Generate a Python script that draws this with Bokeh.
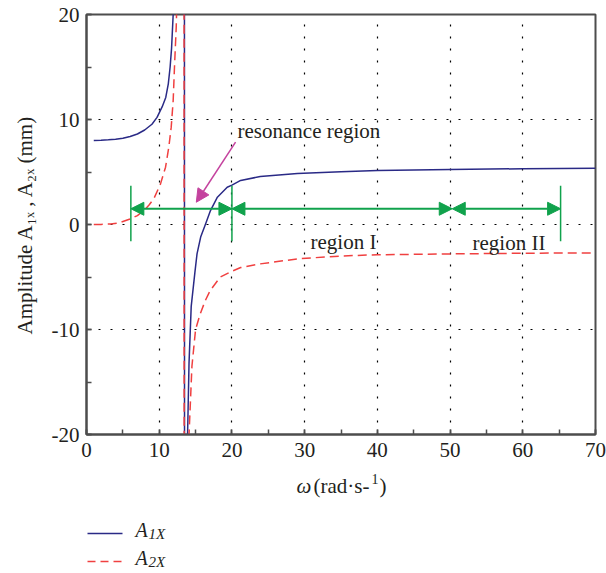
from bokeh.plotting import figure
from bokeh.models import Range1d, SingleIntervalTicker, FixedTicker, Arrow, NormalHead
from bokeh.core.properties import value
from bokeh.layouts import column
from bokeh.embed import file_html
from bokeh.resources import INLINE

# ---------------- data ----------------
omega_a1 = [1.0, 2.0, 3.0, 4.0, 5.0, 6.0, 7.0, 8.0, 9.0, 9.7, 10.4, 10.9, 11.25, 11.5, 11.7, 11.92,
            12.2, 12.6, 13.0, 13.4,
            13.55, 13.75, 13.9, 14.1, 14.4, 14.9, 15.2, 15.7, 16.4, 17.05, 18.0, 19.35, 20.0, 21.2,
            23.9, 29.0, 35.0, 40.0, 50.0, 60.0, 70.0]
a1x = [8.0, 8.02, 8.06, 8.12, 8.22, 8.38, 8.62, 9.0, 9.55, 10.2, 11.2, 12.1, 13.4, 15.0, 16.8, 20.0,
       24.0, 32.0, 55.0, 300.0,
       -300.0, -35.0, -20.0, -13.2, -7.8, -4.6, -2.8, -1.2, 0.1, 1.33, 2.6, 3.55, 3.75, 4.2,
       4.57, 4.85, 5.02, 5.14, 5.24, 5.31, 5.36]

omega_a2 = [1.0, 2.0, 3.3, 4.5, 6.05, 7.0, 7.9, 8.6, 9.26, 10.18, 10.87, 11.32, 11.65, 11.92, 12.1,
            12.34, 12.6, 13.0, 13.35,
            13.5, 13.85, 14.1, 14.5, 15.0, 15.6, 16.3, 17.0, 18.4, 20.0, 21.2, 23.9, 26.5, 29.4,
            35.0, 40.0, 50.0, 60.0, 70.0]
a2x = [0.0, 0.01, 0.05, 0.15, 0.54, 0.85, 1.33, 1.85, 2.45, 3.87, 5.46, 7.36, 9.27, 11.8, 15.0,
       18.8, 26.0, 48.0, 300.0,
       -300.0, -35.0, -20.0, -13.5, -10.0, -8.6, -7.3, -6.3, -5.0, -4.45, -4.1, -3.75, -3.5, -3.25,
       -3.0, -2.88, -2.8, -2.74, -2.7]

x_tick_values = [0, 10, 20, 30, 40, 50, 60, 70]
y_tick_values = [-20, -10, 0, 10, 20]
y_tick_labels = ["-20", "-10", "0", "10", "20"]

# region markers (omega values) and band level
region_bounds = [6.1, 20.0, 50.3, 65.2]
bar_omegas = [6.1, 20.0, 65.2]
band_level = 1.5
bar_low, bar_high = -1.6, 3.7
res_arrow_from = (20.5, 7.84)
res_arrow_to = (15.1, 2.12)

# ---------------- styles ----------------
SERIF = "Liberation Serif"
BLUE = "#2a2a86"
RED = "#f04040"
GREEN = "#10a24c"
MAGENTA = "#c4429e"
AXIS = "#4d4d4d"
TXT = "#231f20"
BASE_SHIFT = 7   # renderer places alphabetic baselines this many px lower

W = 606
H_MAIN = 466
H_BOT = 573 - H_MAIN
FRAME_TOP, FRAME_BOTTOM, FRAME_LEFT, FRAME_RIGHT = 14, 434, 86, 595

p = figure(width=W, height=H_MAIN, x_range=Range1d(0, 70), y_range=Range1d(-20, 20),
           output_backend="svg", toolbar_location=None,
           min_border_left=FRAME_LEFT, min_border_right=W - FRAME_RIGHT,
           min_border_top=FRAME_TOP, min_border_bottom=H_MAIN - FRAME_BOTTOM)
p.background_fill_color = "white"
p.border_fill_color = "white"
p.outline_line_color = AXIS
p.outline_line_width = 2

for ax in (p.xaxis[0], p.yaxis[0]):
    ax.ticker = SingleIntervalTicker(interval=10, num_minor_ticks=2)
    ax.major_tick_in = 5
    ax.major_tick_out = 0
    ax.minor_tick_in = 5
    ax.minor_tick_out = 0
    ax.axis_line_color = AXIS
    ax.axis_line_width = 2
    ax.major_tick_line_color = AXIS
    ax.minor_tick_line_color = AXIS
    ax.major_tick_line_width = 1.5
    ax.minor_tick_line_width = 1.5
    ax.major_label_text_font = SERIF
    ax.major_label_text_font_size = "21px"
    ax.major_label_text_color = TXT
p.xaxis.major_label_standoff = 8
p.yaxis.major_label_standoff = 7
p.yaxis.major_label_overrides = {v: s for v, s in zip(y_tick_values, y_tick_labels)}
p.yaxis.axis_label = "Amplitude A\u2081\u2093 , A\u2082\u2093 (mm)"
p.yaxis.axis_label_text_font = SERIF
p.yaxis.axis_label_text_font_size = "21px"
p.yaxis.axis_label_text_font_style = "normal"
p.yaxis.axis_label_text_color = TXT
p.yaxis.axis_label_standoff = 12

p.xgrid.ticker = FixedTicker(ticks=x_tick_values[1:-1])
p.ygrid.ticker = FixedTicker(ticks=y_tick_values[1:-1])
for g in (p.xgrid[0], p.ygrid[0]):
    g.grid_line_color = "black"
    g.grid_line_width = 1.2
    g.grid_line_dash = "2 10"

# curves
p.line(omega_a1, a1x, line_color=BLUE, line_width=1.5)
p.line(omega_a2, a2x, line_color=RED, line_width=1.5, line_dash="9 5")

# region band
for a, b in zip(region_bounds[:-1], region_bounds[1:]):
    p.add_layout(Arrow(start=NormalHead(size=13, fill_color=GREEN, line_color=GREEN),
                       end=NormalHead(size=13, fill_color=GREEN, line_color=GREEN),
                       x_start=a, y_start=band_level, x_end=b, y_end=band_level,
                       line_color=GREEN, line_width=2))
p.segment(x0=bar_omegas, y0=[bar_low] * 3, x1=bar_omegas, y1=[bar_high] * 3,
          line_color=GREEN, line_width=1.5)

# resonance arrow
p.add_layout(Arrow(end=NormalHead(size=13, fill_color=MAGENTA, line_color=MAGENTA),
                   x_start=res_arrow_from[0], y_start=res_arrow_from[1],
                   x_end=res_arrow_to[0], y_end=res_arrow_to[1],
                   line_color=MAGENTA, line_width=1.5))


def add_text(fig, x, y, text, size=21, style="normal"):
    fig.text(x=[x], y=[y], text=[text], text_font=value(SERIF), text_font_size=f"{size}px",
             text_font_style=style, text_color=TXT,
             text_align="left", text_baseline="alphabetic")


# pixel position (from the page's top-left) -> data coordinates of the main plot
def dx(sx):
    return (sx - FRAME_LEFT) * 70.0 / (FRAME_RIGHT - FRAME_LEFT)

def dy(sy):
    return (FRAME_BOTTOM - (sy - BASE_SHIFT)) * 40.0 / (FRAME_BOTTOM - FRAME_TOP) - 20.0

add_text(p, dx(237), dy(137), "resonance region")
add_text(p, dx(310), dy(248), "region I")
add_text(p, dx(472), dy(249), "region II")

# ---------------- x axis label + legend strip ----------------
# the column aligns this strip's frame with the main frame, so its x range spans the same pixels
bot = figure(width=W, height=H_BOT, x_range=Range1d(FRAME_LEFT, FRAME_RIGHT),
             y_range=Range1d(0, H_BOT), output_backend="svg", toolbar_location=None,
             x_axis_location=None, y_axis_location=None,
             min_border_left=FRAME_LEFT, min_border_right=W - FRAME_RIGHT,
             min_border_top=0, min_border_bottom=0)
bot.grid.visible = False
bot.outline_line_color = None
bot.background_fill_color = "white"
bot.border_fill_color = "white"

def blab(sx, sy, text, size=21, style="normal"):
    add_text(bot, sx, H_MAIN + H_BOT - (sy - BASE_SHIFT), text, size, style)

blab(296, 492, "ω", style="italic")
blab(313, 492, "(rad·s-")
blab(371, 485, "1", size=14)
blab(379, 492, ")")

legend_y = [533, 561]
bot.line([87, 122], [H_MAIN + H_BOT - legend_y[0]] * 2, line_color=BLUE, line_width=1.5)
bot.line([87, 122], [H_MAIN + H_BOT - legend_y[1]] * 2, line_color=RED, line_width=1.5,
         line_dash="8 5")
blab(135, 536, "A", size=20, style="italic")
blab(148, 540, "1X", size=15, style="italic")
blab(135, 564, "A", size=20, style="italic")
blab(148, 568, "2X", size=15, style="italic")

page = column(p, bot)
open("out.html", "w").write(file_html(page, INLINE))
